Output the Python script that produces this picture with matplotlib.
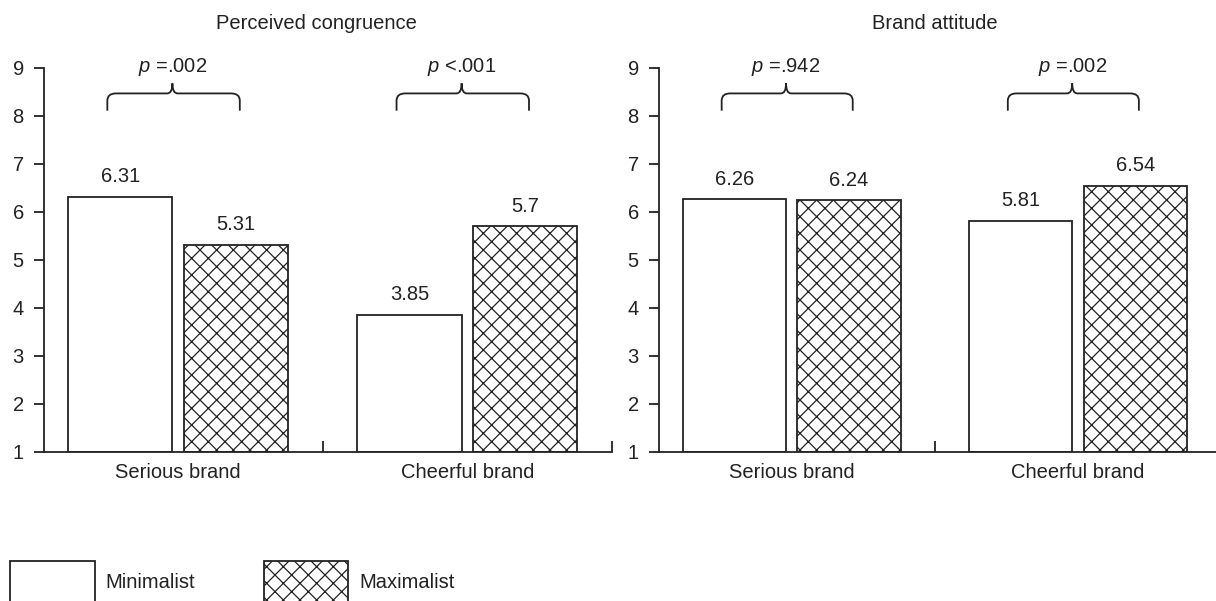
import numpy as np
import matplotlib
matplotlib.use('Agg')
import matplotlib.pyplot as plt
from matplotlib.path import Path
from matplotlib.patches import PathPatch, Patch

plt.rcParams['font.family'] = ['Liberation Sans', 'DejaVu Sans']
plt.rcParams['mathtext.fontset'] = 'custom'
plt.rcParams['mathtext.it'] = 'Liberation Sans:italic'
plt.rcParams['mathtext.rm'] = 'Liberation Sans'
plt.rcParams['hatch.linewidth'] = 0.9
plt.rcParams['hatch.color'] = '#222222'

# data
brands = ['Serious brand', 'Cheerful brand']
styles = ['Minimalist', 'Maximalist']
titles = ['Perceived congruence', 'Brand attitude']
congruence_min = [6.31, 3.85]
congruence_max = [5.31, 5.7]
attitude_min = [6.26, 5.81]
attitude_max = [6.24, 6.54]
congruence_p = ['$p$ =.002', '$p$ <.001']
attitude_p = ['$p$ =.942', '$p$ =.002']
label_congruence_min = ['6.31', '3.85']
label_congruence_max = ['5.31', '5.7']
label_attitude_min = ['6.26', '5.81']
label_attitude_max = ['6.24', '6.54']

ink = '#222222'
fs = 14.5
W, H = 1216, 601
fig = plt.figure(figsize=(W / 100, H / 100), dpi=100)

ax_l = fig.add_axes([44 / W, 1 - 451.5 / H, 568 / W, 384 / H])
ax_r = fig.add_axes([659 / W, 1 - 451.5 / H, 562 / W, 384 / H])


def draw_brace(ax, x0, x1, xm, yb=8.10, yh=8.46, yp=8.67, rx=0.03, ry=0.15, cx=0.018):
	verts = [(x0, yb), (x0, yh - ry), (x0, yh), (x0 + rx, yh),
		(xm - cx, yh), (xm, yh), (xm, yp),
		(xm, yh), (xm + cx, yh),
		(x1 - rx, yh), (x1, yh), (x1, yh - ry), (x1, yb)]
	codes = [Path.MOVETO, Path.LINETO, Path.CURVE3, Path.CURVE3,
		Path.LINETO, Path.CURVE3, Path.CURVE3,
		Path.CURVE3, Path.CURVE3,
		Path.LINETO, Path.CURVE3, Path.CURVE3, Path.LINETO]
	ax.add_patch(PathPatch(Path(verts, codes), fill=False, lw=1.3, ec=ink, clip_on=False))


def draw_panel(ax, title, vals_min, vals_max, labs_min, labs_max, pvals, title_x):
	x = np.arange(len(brands))
	off = 0.2
	w = 0.36
	vmin = np.array(vals_min)
	vmax = np.array(vals_max)
	ax.bar(x - off, vmin - 1, w, bottom=1, color='white', edgecolor=ink, lw=1.3)
	ax.bar(x + off, vmax - 1, w, bottom=1, color='white', edgecolor=ink, lw=1.3, hatch='xx')
	for i in range(len(x)):
		ax.text(x[i] - off, vmin[i] + 0.3, labs_min[i], ha='center', va='baseline', fontsize=fs, color=ink)
		ax.text(x[i] + off, vmax[i] + 0.3, labs_max[i], ha='center', va='baseline', fontsize=fs, color=ink)
		draw_brace(ax, x[i] - 0.245, x[i] + 0.213, x[i] - 0.02)
		ax.text(x[i] - 0.02, 8.9, pvals[i], ha='center', va='baseline', fontsize=fs, color=ink, clip_on=False)

	ax.set_ylim(1, 9)
	ax.set_xlim(-0.464, 1.5)
	ax.set_yticks(range(1, 10))
	ax.set_xticks([0.5, 1.5])
	ax.set_xticklabels([])
	ax.set_xticks(x, minor=True)
	ax.set_xticklabels(brands, minor=True)
	ax.tick_params(axis='x', which='major', direction='in', length=8, width=1.3, color=ink)
	ax.tick_params(axis='x', which='minor', length=0, pad=8.5, labelsize=fs, labelcolor=ink)
	ax.tick_params(axis='y', direction='out', length=7.5, width=1.3, pad=7, labelsize=fs, color=ink, labelcolor=ink)
	for s in ['top', 'right']:
		ax.spines[s].set_visible(False)
	for s in ['left', 'bottom']:
		ax.spines[s].set_linewidth(1.3)
		ax.spines[s].set_color(ink)
	ax.set_title(title, fontsize=fs, color=ink, pad=28, x=title_x)


draw_panel(ax_l, titles[0], congruence_min, congruence_max, label_congruence_min, label_congruence_max, congruence_p, 0.48)
draw_panel(ax_r, titles[1], attitude_min, attitude_max, label_attitude_min, label_attitude_max, attitude_p, 0.49)

handles = [Patch(facecolor='white', edgecolor=ink, lw=1.3, label=styles[0]),
	Patch(facecolor='white', edgecolor=ink, lw=1.3, hatch='xx', label=styles[1])]
fig.legend(handles=handles, ncol=2, loc='upper left', bbox_to_anchor=(10 / W, 1 - 561 / H),
	frameon=False, fontsize=fs, handlelength=4.2, handleheight=2.8, handletextpad=0.55,
	columnspacing=3.4, borderpad=0, borderaxespad=0, labelcolor=ink)

fig.savefig('out.png', dpi=100)
